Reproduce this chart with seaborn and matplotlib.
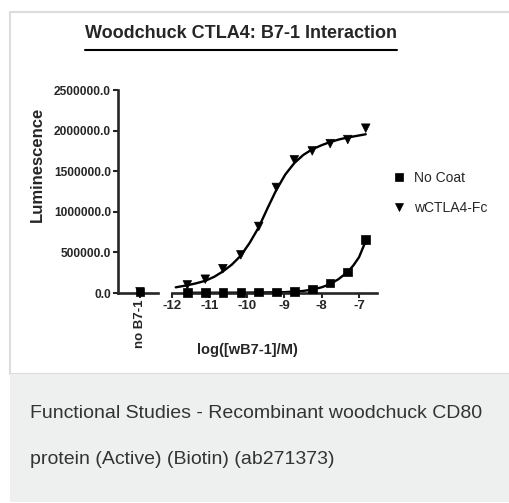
import numpy as np
import pandas as pd
import matplotlib
matplotlib.use("Agg")
import matplotlib.pyplot as plt
from matplotlib.patches import Rectangle
from matplotlib.lines import Line2D
from matplotlib.ticker import FuncFormatter
import seaborn as sns

# measured points (log10 molar conc of wB7-1, 3-fold dilutions)
log_conc = [-6.82, -7.30, -7.77, -8.25, -8.73, -9.21, -9.68, -10.16, -10.64, -11.11, -11.59]
wctla4_fc = [2030000, 1890000, 1840000, 1750000, 1640000, 1300000, 820000, 470000, 300000, 170000, 100000]
no_coat = [658000, 256000, 122000, 49000, 20000, 12000, 10000, 7000, 9000, 6000, 8000]

# "no B7-1" control points
ctrl_wctla4_fc = [15000]
ctrl_no_coat = [10000]

# fitted curves
fit_x_ctla4 = [-11.9, -11.59, -11.35, -11.11, -10.87, -10.64, -10.4, -10.16, -9.92, -9.68, -9.45, -9.21, -8.97,
               -8.73, -8.49, -8.25, -8.0, -7.77, -7.5, -7.3, -7.0, -6.82]
fit_y_ctla4 = [70000, 95000, 120000, 150000, 200000, 265000, 350000, 460000, 620000, 810000, 1040000, 1270000,
               1460000, 1600000, 1700000, 1770000, 1820000, 1860000, 1895000, 1915000, 1940000, 1955000]
fit_x_nocoat = [-11.6, -10.0, -9.0, -8.5, -8.25, -8.0, -7.77, -7.55, -7.3, -7.15, -7.0, -6.82]
fit_y_nocoat = [3000, 5000, 10000, 25000, 42000, 70000, 110000, 170000, 260000, 340000, 440000, 640000]

series_names = ["No Coat", "wCTLA4-Fc"]
x_ticks = [-12, -11, -10, -9, -8, -7]
y_ticks = [0, 500000, 1000000, 1500000, 2000000, 2500000]

sns.set_style("ticks")
plt.rcParams["font.family"] = ["Liberation Sans", "DejaVu Sans"]

df = pd.DataFrame({
    "x": log_conc * 2,
    "y": no_coat + wctla4_fc,
    "series": ["No Coat"] * len(no_coat) + ["wCTLA4-Fc"] * len(wctla4_fc),
})
ctrl = pd.DataFrame({
    "x": [0.55, 0.55],
    "y": ctrl_no_coat + ctrl_wctla4_fc,
    "series": series_names,
})
fit1 = pd.DataFrame({"x": fit_x_ctla4, "y": fit_y_ctla4})
fit2 = pd.DataFrame({"x": fit_x_nocoat, "y": fit_y_nocoat})

W, H = 510, 503
fig = plt.figure(figsize=(W / 100, H / 100), dpi=100)

# card + caption panel
fig.patches.append(Rectangle((10 / W, 1 - 374 / H), 1, 362 / H, transform=fig.transFigure,
                             facecolor="white", edgecolor="#dcdcdc", linewidth=1.5, zorder=-10))
fig.patches.append(Rectangle((10 / W, 1 - 502 / H), 1, 128 / H, transform=fig.transFigure,
                             facecolor="#eeefef", edgecolor="none", zorder=-10))

bottom = (H - 293) / H
height = 203 / H
ax0 = fig.add_axes([118 / W, bottom, 40 / W, height])
ax1 = fig.add_axes([172 / W, bottom, 205 / W, height])

markers = {"No Coat": "s", "wCTLA4-Fc": "v"}
pal = {"No Coat": "black", "wCTLA4-Fc": "black"}

sns.lineplot(data=fit1, x="x", y="y", ax=ax1, color="black", lw=1.7, legend=False)
sns.lineplot(data=fit2, x="x", y="y", ax=ax1, color="black", lw=1.7, legend=False)
sns.scatterplot(data=df, x="x", y="y", hue="series", style="series", markers=markers, palette=pal,
                s=38, edgecolor="black", ax=ax1, zorder=5, clip_on=False)
sns.scatterplot(data=ctrl, x="x", y="y", hue="series", style="series", markers=markers, palette=pal,
                s=38, edgecolor="black", ax=ax0, zorder=5, legend=False, clip_on=False)

for ax in (ax0, ax1):
    ax.set_zorder(2)
    ax.set_ylim(0, 2500000)
    ax.set_xlabel("")
    ax.set_ylabel("")
    ax.set_facecolor("none")
    for s in ("top", "right"):
        ax.spines[s].set_visible(False)
    ax.spines["bottom"].set_linewidth(1.9)
    ax.spines["left"].set_linewidth(1.9)
    ax.tick_params(direction="out", length=3.5, width=1.5, pad=1.5)

ax0.set_xlim(0, 1)
ax0.set_xticks([0.55])
ax0.set_xticklabels(["no B7-1"], rotation=90, fontsize=9.5, fontweight="bold")
ax0.set_yticks(y_ticks)
ax0.yaxis.set_major_formatter(FuncFormatter(lambda v, p: f"{v:.1f}"))
for t in ax0.get_yticklabels():
    t.set_fontsize(8.6)
    t.set_fontweight("bold")

ax1.set_xlim(-12, -12 + 205 / 37.4)
ax1.set_xticks(x_ticks)
ax1.set_xticklabels([str(v) for v in x_ticks], fontsize=9.5, fontweight="bold")
ax1.spines["left"].set_visible(False)
ax1.set_yticks([])

# legend
handles, labels = ax1.get_legend_handles_labels()
ax1.legend_.remove()
fig.legend(handles, labels, loc="center left", bbox_to_anchor=(378 / W, 1 - 193 / H), frameon=False,
           fontsize=10, handletextpad=0.5, labelspacing=1.15, markerscale=1.0, handlelength=1.2)

# text
title = fig.text(241 / W, 1 - 33 / H, "Woodchuck CTLA4: B7-1 Interaction", ha="center", va="center",
                 fontsize=13, fontweight="bold")
fig.canvas.draw()
bb = title.get_window_extent(fig.canvas.get_renderer())
fig.lines.append(Line2D([bb.x0 / W, bb.x1 / W], [1 - 50 / H, 1 - 50 / H], transform=fig.transFigure,
                        color="black", lw=1.5))

fig.text(37 / W, 1 - 164 / H, "Luminescence", rotation=90, ha="center", va="center",
         fontsize=12, fontweight="bold")
fig.text(247 / W, 1 - 350 / H, "log([wB7-1]/M)", ha="center", va="center", fontsize=10.5, fontweight="bold")

fig.text(30 / W, 1 - 414 / H, "Functional Studies - Recombinant woodchuck CD80", ha="left", va="center",
         fontsize=14, color="#333333")
fig.text(30 / W, 1 - 460 / H, "protein (Active) (Biotin) (ab271373)", ha="left", va="center",
         fontsize=14, color="#333333")

fig.savefig("out.png", dpi=100)
